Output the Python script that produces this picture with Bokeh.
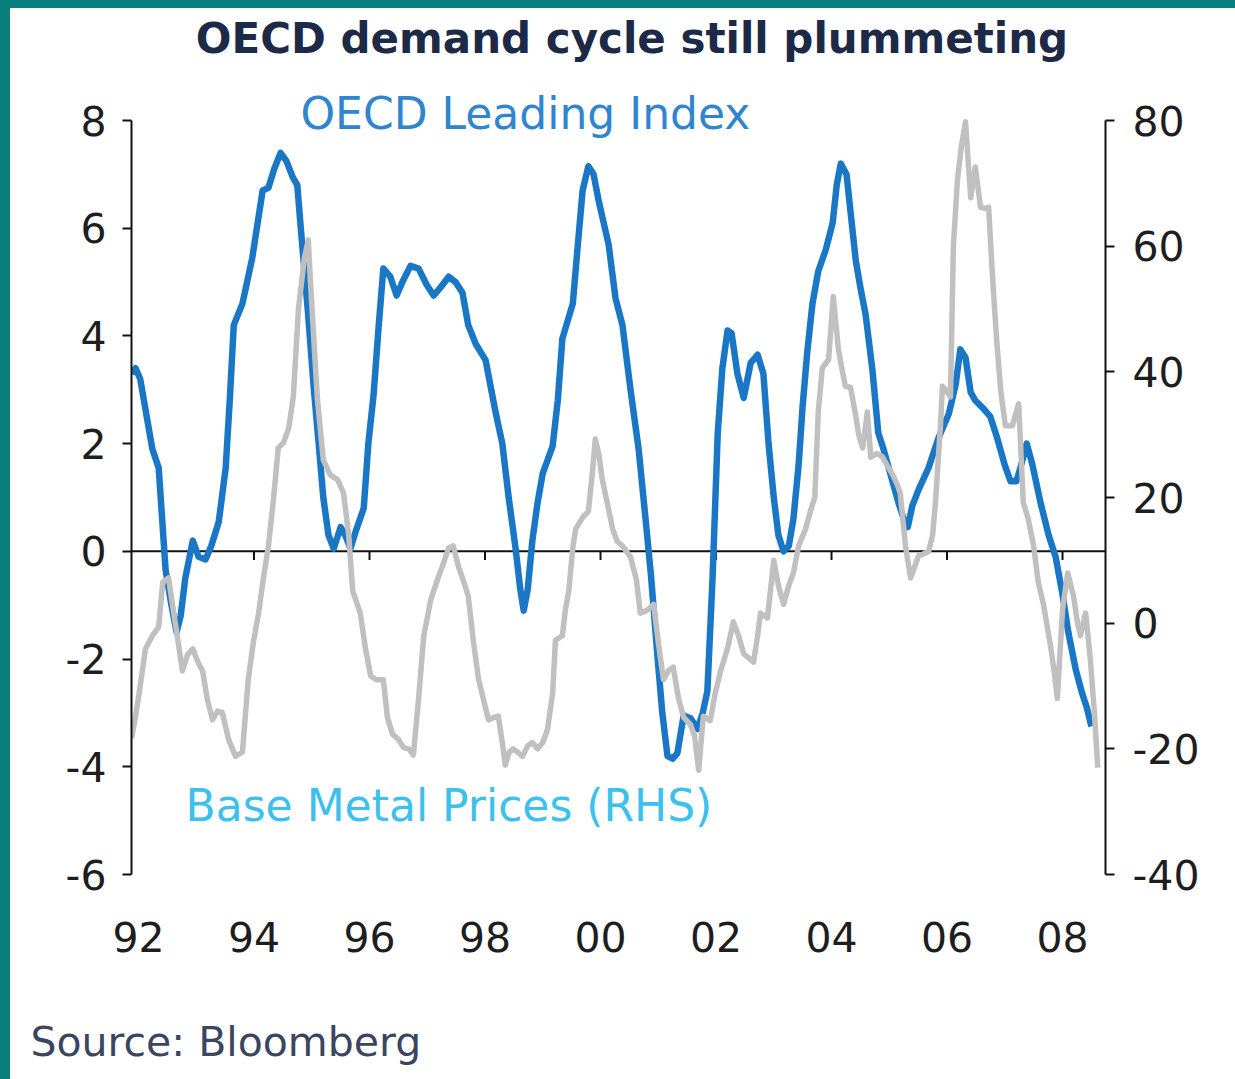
from bokeh.plotting import figure
from bokeh.models import Range1d, LinearAxis, FixedTicker, Span, Label, Title, Div
from bokeh.layouts import row, column
from bokeh.embed import file_html
from bokeh.resources import INLINE

# ---------------- data ----------------
oecd_year = [1991.88, 1991.95, 1992.03, 1992.24, 1992.35, 1992.47, 1992.57, 1992.66, 1992.73, 1992.81,
             1992.94, 1993.04, 1993.16, 1993.26, 1993.39, 1993.51, 1993.58, 1993.65, 1993.80, 1993.97,
             1994.15, 1994.25, 1994.35, 1994.46, 1994.56, 1994.67, 1994.75, 1994.81, 1994.93, 1995.03,
             1995.12, 1995.20, 1995.29, 1995.38, 1995.50, 1995.58, 1995.67, 1995.77, 1995.90, 1995.98,
             1996.07, 1996.16, 1996.24, 1996.36, 1996.47, 1996.57, 1996.71, 1996.85, 1996.99, 1997.11,
             1997.23, 1997.37, 1997.49, 1997.61, 1997.71, 1997.84, 1998.01, 1998.18, 1998.30, 1998.41,
             1998.53, 1998.61, 1998.67, 1998.74, 1998.82, 1998.91, 1999.00, 1999.17, 1999.26, 1999.34,
             1999.52, 1999.60, 1999.69, 1999.79, 1999.88, 1999.97, 2000.14, 2000.26, 2000.38, 2000.52,
             2000.66, 2000.78, 2000.87, 2000.99, 2001.07, 2001.16, 2001.25, 2001.33, 2001.44, 2001.56,
             2001.68, 2001.77, 2001.85, 2001.94, 2002.03, 2002.11, 2002.20, 2002.27, 2002.37, 2002.48,
             2002.60, 2002.72, 2002.82, 2002.91, 2003.00, 2003.08, 2003.17, 2003.26, 2003.34, 2003.43,
             2003.50, 2003.58, 2003.67, 2003.77, 2003.90, 2004.02, 2004.09, 2004.16, 2004.26, 2004.33,
             2004.42, 2004.50, 2004.59, 2004.71, 2004.81, 2004.90, 2004.99, 2005.16, 2005.25, 2005.32,
             2005.40, 2005.51, 2005.68, 2005.85, 2006.03, 2006.15, 2006.23, 2006.32, 2006.41, 2006.49,
             2006.63, 2006.75, 2006.87, 2007.00, 2007.10, 2007.20, 2007.27, 2007.38, 2007.48, 2007.62,
             2007.76, 2007.88, 2008.00, 2008.10, 2008.23, 2008.33, 2008.42, 2008.50]
oecd_value = [3.3, 3.4, 3.2, 1.9, 1.55, -0.35, -1.0, -1.5, -1.2, -0.5,
              0.2, -0.1, -0.15, 0.1, 0.55, 1.55, 2.8, 4.2, 4.6, 5.45,
              6.7, 6.75, 7.1, 7.4, 7.25, 6.95, 6.8, 6.0, 4.5, 3.1,
              2.0, 1.0, 0.3, 0.05, 0.45, 0.3, 0.05, 0.4, 0.8, 2.0,
              2.9, 4.2, 5.25, 5.1, 4.75, 5.0, 5.3, 5.25, 4.95, 4.75,
              4.9, 5.1, 5.0, 4.8, 4.2, 3.85, 3.55, 2.6, 2.0, 1.0,
              0.05, -0.7, -1.1, -0.7, 0.2, 0.9, 1.45, 1.95, 2.8, 3.95,
              4.6, 5.6, 6.7, 7.15, 7.0, 6.5, 5.7, 4.7, 4.2, 3.0,
              1.9, 0.6, -0.4, -2.0, -3.0, -3.8, -3.85, -3.75, -3.05, -3.1,
              -3.3, -3.0, -2.6, -0.5, 2.2, 3.4, 4.1, 4.05, 3.3, 2.85,
              3.5, 3.65, 3.3, 2.0, 1.0, 0.3, 0.0, 0.1, 0.6, 1.6,
              2.7, 3.7, 4.6, 5.2, 5.6, 6.1, 6.8, 7.2, 7.0, 6.3,
              5.4, 4.9, 4.4, 3.35, 2.2, 1.9, 1.55, 0.9, 0.6, 0.45,
              0.85, 1.15, 1.55, 2.1, 2.55, 3.1, 3.75, 3.6, 2.95, 2.8,
              2.65, 2.5, 2.1, 1.6, 1.3, 1.3, 1.55, 2.0, 1.6, 0.9,
              0.3, -0.1, -0.8, -1.5, -2.2, -2.6, -2.9, -3.25]

metal_year = [1991.88, 1991.95, 1992.03, 1992.12, 1992.24, 1992.35, 1992.42, 1992.52, 1992.61, 1992.66,
              1992.76, 1992.85, 1992.94, 1993.02, 1993.11, 1993.19, 1993.28, 1993.37, 1993.45, 1993.56,
              1993.68, 1993.80, 1993.90, 1993.99, 1994.08, 1994.16, 1994.25, 1994.34, 1994.42, 1994.51,
              1994.60, 1994.68, 1994.77, 1994.87, 1994.94, 1994.98, 1995.05, 1995.10, 1995.20, 1995.32,
              1995.45, 1995.55, 1995.64, 1995.71, 1995.84, 1995.93, 1996.02, 1996.12, 1996.24, 1996.31,
              1996.40, 1996.50, 1996.59, 1996.68, 1996.76, 1996.85, 1996.94, 1997.06, 1997.18, 1997.26,
              1997.37, 1997.45, 1997.54, 1997.61, 1997.71, 1997.80, 1997.89, 1997.97, 1998.06, 1998.15,
              1998.23, 1998.30, 1998.35, 1998.42, 1998.49, 1998.56, 1998.65, 1998.74, 1998.82, 1998.91,
              1999.00, 1999.08, 1999.17, 1999.22, 1999.34, 1999.39, 1999.45, 1999.52, 1999.57, 1999.69,
              1999.79, 1999.86, 1999.91, 1999.97, 2000.03, 2000.12, 2000.21, 2000.29, 2000.38, 2000.52,
              2000.62, 2000.69, 2000.80, 2000.92, 2001.00, 2001.09, 2001.18, 2001.26, 2001.35, 2001.44,
              2001.56, 2001.63, 2001.70, 2001.78, 2001.90, 2001.99, 2002.08, 2002.20, 2002.30, 2002.39,
              2002.48, 2002.56, 2002.65, 2002.72, 2002.77, 2002.89, 2003.00, 2003.08, 2003.17, 2003.26,
              2003.34, 2003.43, 2003.55, 2003.64, 2003.71, 2003.77, 2003.84, 2003.95, 2004.03, 2004.12,
              2004.19, 2004.24, 2004.33, 2004.42, 2004.47, 2004.54, 2004.62, 2004.68, 2004.78, 2004.88,
              2004.97, 2005.06, 2005.14, 2005.19, 2005.28, 2005.37, 2005.44, 2005.51, 2005.59, 2005.68,
              2005.75, 2005.80, 2005.89, 2005.92, 2005.99, 2006.06, 2006.11, 2006.18, 2006.25, 2006.32,
              2006.37, 2006.41, 2006.49, 2006.58, 2006.67, 2006.72, 2006.79, 2006.86, 2006.93, 2007.01,
              2007.13, 2007.24, 2007.32, 2007.41, 2007.50, 2007.58, 2007.67, 2007.79, 2007.86, 2007.91,
              2008.00, 2008.09, 2008.19, 2008.26, 2008.31, 2008.40, 2008.48, 2008.55, 2008.61]
metal_value = [-18.3, -14.8, -10.0, -4.1, -2.0, -0.6, 6.5, 7.2, 1.6, -1.3,
               -7.6, -5.0, -4.1, -6.0, -7.6, -12.0, -15.4, -14.0, -14.2, -18.5,
               -21.2, -20.5, -9.0, -3.0, 1.6, 7.0, 12.3, 20.0, 27.9, 28.7,
               31.0, 36.0, 50.0, 58.0, 61.0, 54.0, 43.0, 35.5, 26.0, 23.6,
               22.8, 20.7, 14.0, 5.1, 1.6, -4.0, -8.4, -9.0, -9.0, -15.0,
               -17.7, -18.5, -19.8, -20.0, -21.0, -12.0, -2.0, 3.7, 7.0, 9.0,
               12.0, 12.3, 9.0, 7.2, 4.3, -3.0, -9.0, -12.0, -15.4, -15.0,
               -14.8, -19.0, -22.6, -20.5, -20.0, -20.5, -21.2, -19.5, -19.0, -20.0,
               -19.0, -17.0, -11.3, -2.7, -2.0, 2.0, 5.1, 12.0, 15.0, 16.8,
               17.8, 24.0, 29.3, 27.0, 22.9, 19.0, 15.0, 13.0, 12.3, 10.5,
               7.0, 1.6, 2.0, 3.0, -3.0, -9.0, -7.5, -7.0, -12.0, -15.0,
               -16.2, -18.0, -23.4, -14.8, -15.5, -11.0, -7.6, -4.0, 0.2, -2.0,
               -4.9, -5.5, -6.2, -2.0, 1.6, 0.8, 10.0, 6.0, 3.0, 6.0,
               8.0, 12.3, 15.0, 18.0, 20.0, 33.6, 40.6, 42.0, 52.0, 43.5,
               40.0, 37.7, 37.5, 33.0, 30.0, 27.9, 33.6, 26.4, 27.0, 26.5,
               25.0, 23.6, 22.0, 20.7, 12.3, 7.2, 9.0, 10.8, 11.0, 11.4,
               14.0, 19.3, 32.0, 37.7, 37.0, 36.0, 60.0, 70.5, 76.0, 79.8,
               73.0, 67.7, 72.6, 66.2, 66.0, 66.2, 54.8, 45.0, 37.0, 31.4,
               31.4, 34.9, 19.3, 16.4, 12.3, 6.5, 3.0, -3.5, -8.0, -12.0,
               2.2, 8.0, 4.3, 0.0, -2.0, 1.6, -5.6, -14.0, -23.0]

year_ticks = [1992, 1994, 1996, 1998, 2000, 2002, 2004, 2006, 2008]
year_labels = ["92", "94", "96", "98", "00", "02", "04", "06", "08"]
left_ticks = [-6, -4, -2, 0, 2, 4, 6, 8]
left_labels = ["-6", "-4", "-2", "0", "2", "4", "6", "8"]
right_ticks = [-40, -20, 0, 20, 40, 60, 80]
right_labels = ["-40", "-20", "0", "20", "40", "60", "80"]

title_text = "OECD demand cycle still plummeting"
oecd_name = "OECD Leading Index"
metal_name = "Base Metal Prices (RHS)"
source_text = "Source: Bloomberg"

# ---------------- styles ----------------
FONT = "DejaVu Sans"
BLUE = "#1a77c6"
GREY = "#c0c0c0"
TXT = "#1e1e1e"
TEAL = "#0a807e"

p = figure(width=1225, height=1071, output_backend="svg", toolbar_location=None,
           x_range=Range1d(1991.879, 2008.744), y_range=Range1d(-6, 10.0796),
           min_border_left=121, min_border_right=130, min_border_top=0, min_border_bottom=205,
           background_fill_color="white", border_fill_color="white", outline_line_color=None,
           margin=0)
p.extra_y_ranges = {"rhs": Range1d(-40, 80 + 2.0796 * 120 / 14)}
p.xgrid.visible = False
p.ygrid.visible = False

# bottom axis: labels only
xa = p.xaxis[0]
xa.ticker = FixedTicker(ticks=year_ticks)
xa.major_label_overrides = {t: l for t, l in zip(year_ticks, year_labels)}
xa.axis_line_color = None
xa.major_tick_line_color = None
xa.minor_tick_line_color = None
xa.major_label_standoff = 41
xa.major_label_text_font = FONT
xa.major_label_text_font_size = "41px"
xa.major_label_text_color = TXT

ya = p.yaxis[0]
ya.ticker = FixedTicker(ticks=left_ticks)
ya.bounds = (-6, 8)
ya.major_label_overrides = {t: l for t, l in zip(left_ticks, left_labels)}
ya.axis_line_color = "#111111"
ya.axis_line_width = 2
ya.major_tick_line_color = "#111111"
ya.major_tick_line_width = 2
ya.major_tick_out = 9
ya.major_tick_in = 0
ya.minor_tick_line_color = None
ya.major_label_standoff = 16
ya.major_label_text_font = FONT
ya.major_label_text_font_size = "41px"
ya.major_label_text_color = TXT

ra = LinearAxis(y_range_name="rhs", ticker=FixedTicker(ticks=right_ticks), bounds=(-40, 80))
ra.major_label_overrides = {t: l for t, l in zip(right_ticks, right_labels)}
ra.axis_line_color = "#111111"
ra.axis_line_width = 2
ra.major_tick_line_color = "#111111"
ra.major_tick_line_width = 2
ra.major_tick_out = 9
ra.major_tick_in = 0
ra.minor_tick_line_color = None
ra.major_label_standoff = 18
ra.major_label_text_font = FONT
ra.major_label_text_font_size = "41px"
ra.major_label_text_color = TXT
p.add_layout(ra, "right")

# zero line with small ticks
p.add_layout(Span(location=0, dimension="width", line_color="#111111", line_width=2, level="underlay"))
p.segment(x0=year_ticks[1:], x1=year_ticks[1:], y0=[0] * 8, y1=[-0.16] * 8,
          line_color="#111111", line_width=2, level="underlay")

# series
p.line(oecd_year, oecd_value, line_color=BLUE, line_width=6.5, line_join="round")
p.line(metal_year, metal_value, y_range_name="rhs", line_color=GREY, line_width=5.5, line_join="round")

# texts
p.add_layout(Label(x=2000.545, y=9.52, text=title_text, text_font=FONT, text_font_style="bold",
                   text_font_size="42px", text_color="#1c2a48", text_align="center",
                   text_baseline="middle"))
p.add_layout(Label(x=1994.805, y=8.13, text=oecd_name, text_font=FONT, text_font_size="44px",
                   text_color="#2f85cf", text_align="left", text_baseline="middle"))
p.add_layout(Label(x=1992.814, y=-4.72, text=metal_name, text_font=FONT, text_font_size="44px",
                   text_color="#3cc0ec", text_align="left", text_baseline="middle"))
# spacer between tick labels and source line
p.add_layout(Title(text=" ", text_font_size="10px", standoff=48, text_color="white"), "below")
p.add_layout(Title(text=source_text, align="left", offset=-101, standoff=0,
                   text_font=FONT, text_font_style="normal", text_font_size="41px",
                   text_color="#3a4660"), "below")

left_strip = Div(text="", width=10, height=1079, margin=0, styles={"background-color": TEAL})
top_strip = Div(text="", width=1225, height=8, margin=0, styles={"background-color": TEAL})
layout = row(left_strip, column(top_strip, p, spacing=0, margin=0), spacing=0, margin=0)

open("out.html", "w").write(file_html(layout, INLINE))
